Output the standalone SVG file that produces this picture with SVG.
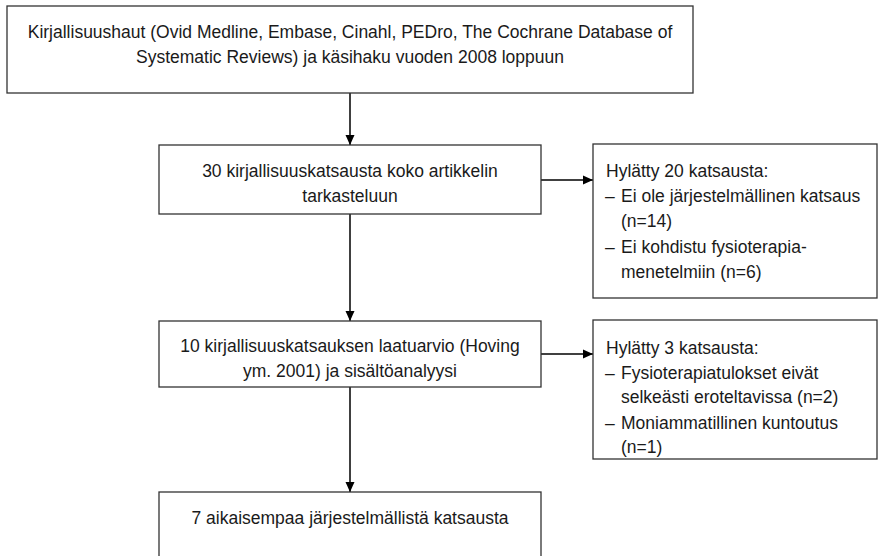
<svg xmlns="http://www.w3.org/2000/svg" width="879" height="556" viewBox="0 0 879 556">
<style>
.box{fill:#fff;stroke:#333;stroke-width:1.3}
.t{font-family:"Liberation Sans",Arial,sans-serif;font-size:17.5px;fill:#1a1a1a}
.c{text-anchor:middle}
.con{stroke:#000;stroke-width:1.5;fill:none}
</style>
<defs>
<marker id="ah" viewBox="0 0 10 10" refX="10" refY="5" markerWidth="10" markerHeight="10" markerUnits="userSpaceOnUse" orient="auto">
<path d="M0,0.5 L10,5 L0,9.5 z" fill="#000"/>
</marker>
</defs>
<rect width="879" height="556" fill="#fff"/>
<g id="connectors">
<line class="con" x1="350" y1="93" x2="350" y2="145" marker-end="url(#ah)"/>
<line class="con" x1="541" y1="180" x2="593" y2="180" marker-end="url(#ah)"/>
<line class="con" x1="350" y1="214" x2="350" y2="321" marker-end="url(#ah)"/>
<line class="con" x1="541" y1="354" x2="593" y2="354" marker-end="url(#ah)"/>
<line class="con" x1="350" y1="387" x2="350" y2="492" marker-end="url(#ah)"/>
</g>
<g id="n1">
<rect class="box" x="7" y="6" width="686" height="87"/>
<text class="t c" x="350" y="38">Kirjallisuushaut (Ovid Medline, Embase, Cinahl, PEDro, The Cochrane Database of</text>
<text class="t c" x="350" y="63">Systematic Reviews) ja käsihaku vuoden 2008 loppuun</text>
</g>
<g id="n2">
<rect class="box" x="159" y="145" width="382" height="69"/>
<text class="t c" x="350" y="177">30 kirjallisuuskatsausta koko artikkelin</text>
<text class="t c" x="350" y="202">tarkasteluun</text>
</g>
<g id="n3">
<rect class="box" x="593" y="144" width="284" height="154"/>
<text class="t" x="606" y="177">Hylätty 20 katsausta:</text>
<text class="t" x="605" y="202">–</text>
<text class="t" x="621" y="202">Ei ole järjestelmällinen katsaus</text>
<text class="t" x="621" y="227">(n=14)</text>
<text class="t" x="605" y="253">–</text>
<text class="t" x="621" y="253">Ei kohdistu fysioterapia-</text>
<text class="t" x="621" y="278">menetelmiin (n=6)</text>
</g>
<g id="n4">
<rect class="box" x="159" y="321" width="382" height="66"/>
<text class="t c" x="350" y="352">10 kirjallisuuskatsauksen laatuarvio (Hoving</text>
<text class="t c" x="350" y="377">ym. 2001) ja sisältöanalyysi</text>
</g>
<g id="n5">
<rect class="box" x="593" y="320" width="284" height="139"/>
<text class="t" x="606" y="354">Hylätty 3 katsausta:</text>
<text class="t" x="605" y="379">–</text>
<text class="t" x="621" y="379">Fysioterapiatulokset eivät</text>
<text class="t" x="621" y="403">selkeästi eroteltavissa (n=2)</text>
<text class="t" x="605" y="429">–</text>
<text class="t" x="621" y="429">Moniammatillinen kuntoutus</text>
<text class="t" x="621" y="453">(n=1)</text>
</g>
<g id="n6">
<rect class="box" x="159" y="492" width="382" height="80"/>
<text class="t c" x="350" y="524">7 aikaisempaa järjestelmällistä katsausta</text>
</g>
</svg>
